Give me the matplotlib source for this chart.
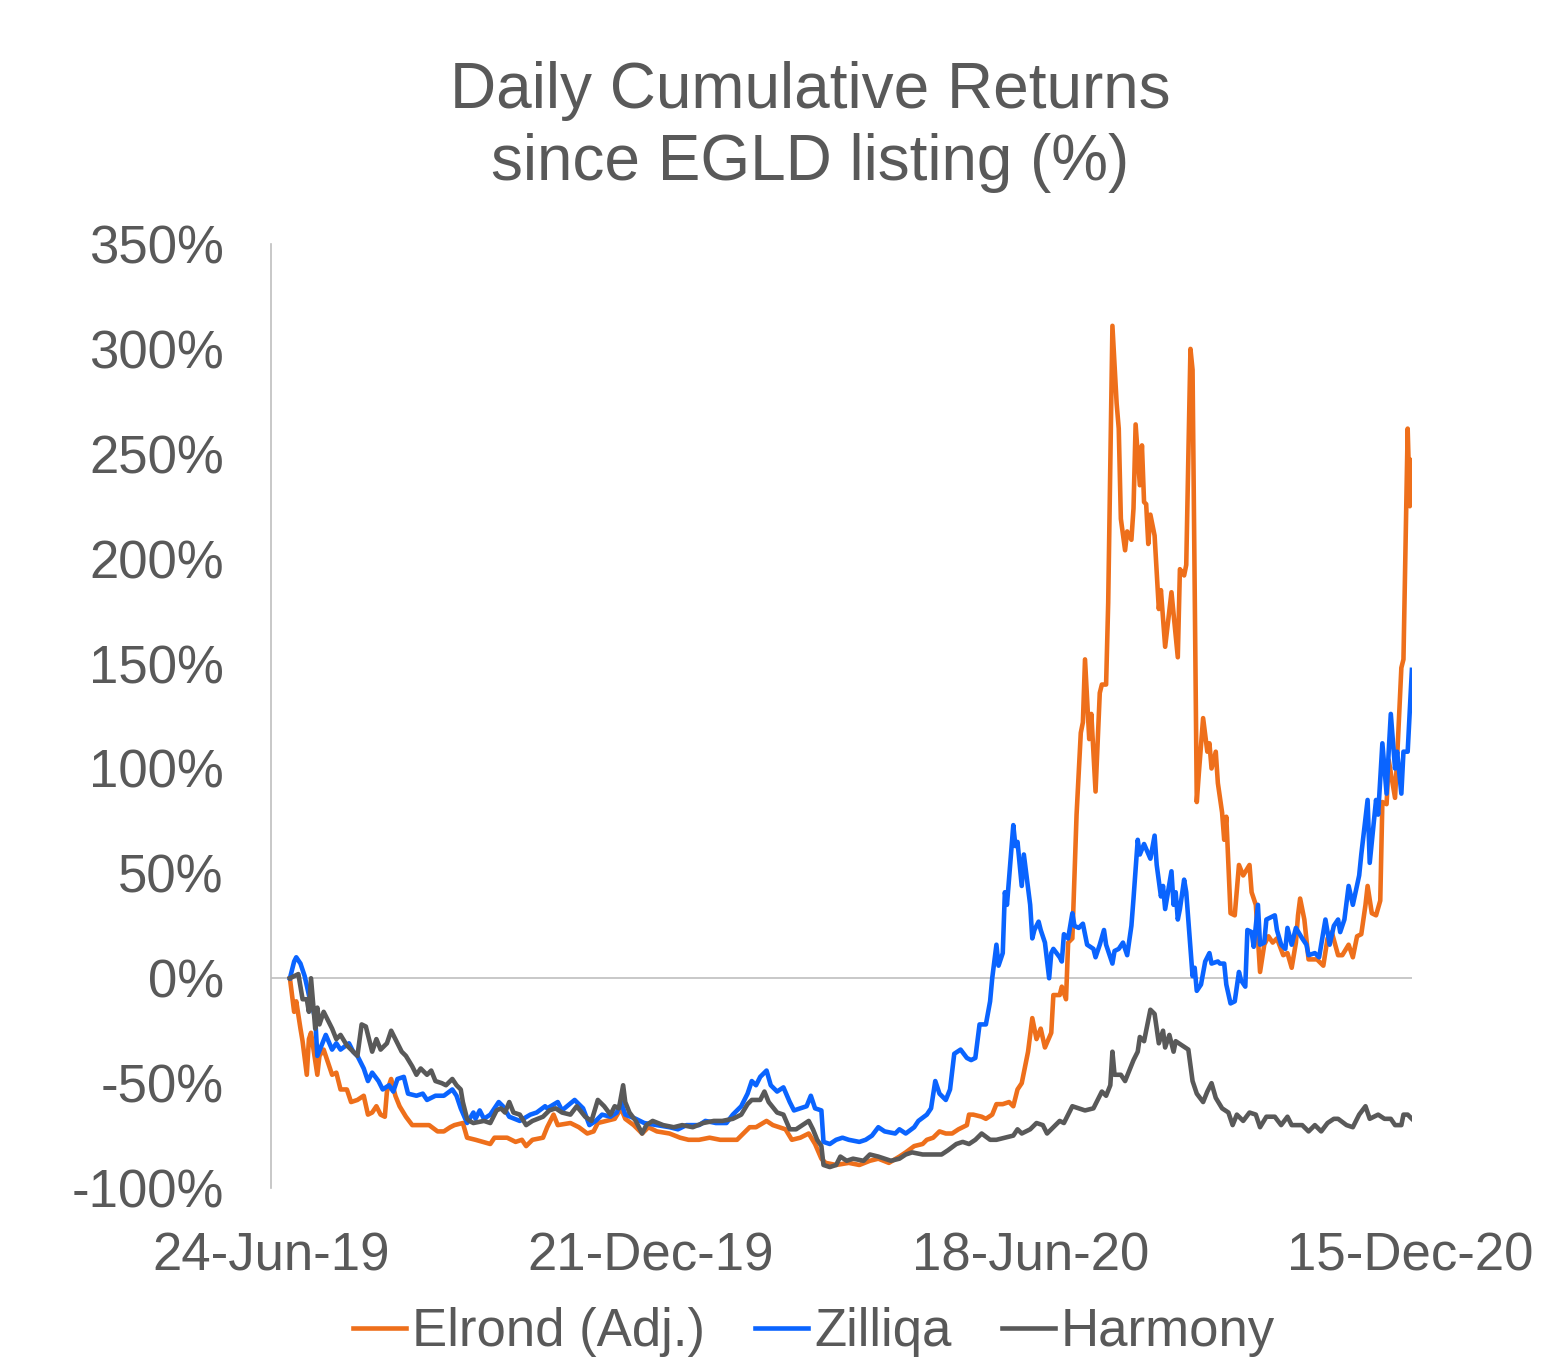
import numpy as np
import matplotlib
matplotlib.use("Agg")
import matplotlib.pyplot as plt
import matplotlib.dates as mdates

START = np.datetime64("2019-06-24")

# day offsets from 24-Jun-19 and cumulative return in %
elrond_days = [9, 11, 12, 14, 15, 17, 18, 19, 22, 23, 25, 27, 29, 31, 33, 36, 38, 41, 44, 46,
               48, 50, 52, 54, 55, 57, 59, 61, 64, 67, 71, 75, 79, 82, 85, 87, 91, 93, 97, 104,
               106, 112, 116, 119, 121, 124, 129, 131, 134, 136, 142, 146, 150, 153, 155, 159, 163, 166, 168, 172,
               176, 179, 183, 189, 194, 198, 203, 208, 213, 217, 221, 224, 227, 230, 235, 238, 241, 244, 247, 251,
               255, 258, 261, 263, 268, 274, 279, 284, 288, 293, 298, 301, 305, 309, 311, 314, 317, 320, 323, 326,
               330, 331, 333, 337, 339, 342, 344, 347, 350, 352, 354, 356, 359, 361, 363, 365, 367, 370, 371, 374,
               375, 377, 378, 380, 382, 384, 385, 386, 388, 389, 391, 393, 394, 396, 397, 399, 401, 402, 403, 405,
               406, 408, 409, 410, 412, 413, 414, 415, 416, 417, 419, 421, 422, 424, 427, 430, 431, 433, 434, 436,
               437, 439, 440, 442, 444, 445, 446, 448, 449, 451, 452, 453, 455, 457, 459, 461, 464, 465, 467, 469,
               471, 473, 475, 477, 480, 482, 484, 486, 487, 488, 490, 492, 496, 499, 501, 503, 506, 508, 511, 513,
               515, 517, 519, 520, 522, 524, 526, 527, 529, 530, 533, 534, 536, 537, 539, 540, 541]
elrond_vals = [0, -16, -11, -24, -30, -46, -29, -26, -46, -37, -34, -40, -46, -45, -53, -53, -59, -58, -56, -65,
               -64, -61, -65, -66, -54, -48, -56, -61, -66, -70, -70, -70, -73, -73, -71, -70, -69, -76, -77, -79,
               -76, -76, -78, -77, -80, -77, -76, -71, -65, -70, -69, -71, -74, -73, -69, -68, -67, -62, -67, -70,
               -74, -71, -73, -74, -76, -77, -77, -76, -77, -77, -77, -74, -71, -71, -68, -70, -71, -72, -77, -76,
               -74, -79, -86, -88, -89, -88, -89, -87, -86, -88, -85, -83, -80, -79, -77, -76, -73, -74, -74, -72,
               -70, -65, -65, -66, -67, -65, -60, -60, -59, -61, -53, -50, -35, -19, -29, -24, -33, -26, -8, -8,
               -4, -10, 17, 19, 78, 117, 122, 152, 114, 126, 89, 136, 140, 140, 179, 311, 274, 262, 219, 204,
               213, 209, 224, 264, 235, 254, 227, 226, 207, 221, 211, 176, 185, 158, 184, 153, 195, 192, 197, 300,
               290, 84, 98, 124, 108, 112, 100, 108, 93, 79, 66, 77, 31, 30, 54, 49, 54, 41, 35, 3,
               16, 20, 17, 19, 11, 12, 5, 17, 30, 38, 28, 9, 9, 6, 19, 22, 11, 11, 16, 10,
               20, 21, 35, 44, 31, 30, 37, 84, 83, 104, 86, 105, 148, 152, 262, 225, 247]

zilliqa_days = [9, 11, 12, 14, 16, 18, 21, 22, 24, 26, 29, 31, 33, 37, 39, 41, 44, 46, 48, 51,
                53, 56, 58, 60, 63, 65, 69, 72, 74, 78, 82, 86, 88, 90, 93, 96, 97, 99, 101, 104,
                108, 110, 113, 118, 123, 126, 130, 131, 136, 138, 144, 146, 148, 151, 154, 157, 161, 164, 166, 168,
                173, 177, 183, 189, 193, 197, 203, 206, 211, 216, 219, 223, 226, 228, 230, 232, 235, 237, 240, 243,
                246, 248, 251, 254, 256, 258, 261, 262, 265, 268, 271, 274, 279, 282, 285, 288, 291, 296, 298, 301,
                305, 307, 311, 313, 315, 317, 320, 322, 324, 327, 330, 332, 334, 336, 339, 341, 342, 344, 345, 347,
                348, 349, 352, 353, 354, 356, 357, 360, 361, 362, 364, 365, 367, 369, 370, 371, 374, 375, 376, 378,
                380, 381, 383, 385, 387, 390, 391, 393, 395, 396, 399, 400, 402, 404, 406, 408, 409, 411, 412, 414,
                417, 419, 420, 422, 423, 424, 425, 427, 428, 429, 430, 431, 433, 434, 437, 438, 439, 441, 443, 445,
                446, 449, 450, 452, 453, 455, 457, 459, 460, 462, 463, 465, 466, 468, 469, 471, 472, 474, 476, 477,
                479, 481, 482, 484, 486, 489, 491, 492, 495, 497, 500, 502, 504, 506, 507, 509, 511, 513, 516, 517,
                520, 521, 524, 525, 527, 529, 530, 531, 533, 534, 536, 537, 539, 541]
zilliqa_vals = [0, 8, 10, 7, 1, -8, -19, -37, -32, -27, -34, -31, -34, -31, -35, -37, -43, -49, -45, -49,
                -53, -51, -54, -48, -47, -55, -56, -55, -58, -56, -56, -53, -56, -62, -69, -64, -67, -63, -67, -65,
                -59, -61, -66, -68, -65, -64, -61, -62, -59, -63, -58, -60, -62, -70, -68, -65, -66, -64, -59, -65,
                -67, -69, -70, -71, -72, -70, -70, -68, -69, -69, -65, -61, -55, -49, -51, -47, -44, -51, -54, -52,
                -59, -63, -62, -61, -56, -62, -63, -78, -79, -77, -76, -77, -78, -77, -75, -71, -73, -74, -72, -74,
                -71, -68, -65, -62, -49, -55, -58, -53, -36, -34, -38, -39, -38, -22, -22, -11, 0, 16, 6, 12,
                41, 35, 73, 63, 65, 44, 59, 35, 19, 23, 27, 23, 17, 0, 12, 14, 10, 8, 21, 19,
                31, 25, 24, 26, 16, 14, 10, 16, 23, 16, 7, 13, 14, 17, 11, 25, 38, 66, 59, 64,
                57, 68, 54, 39, 44, 33, 39, 51, 35, 41, 28, 33, 47, 41, 1, 5, -6, -3, 8, 12,
                7, 8, 7, 7, -3, -12, -11, 3, -1, -4, 23, 22, 15, 35, 16, 17, 28, 29, 30, 23,
                16, 14, 24, 16, 24, 19, 16, 11, 12, 10, 28, 16, 25, 28, 22, 28, 44, 35, 49, 59,
                85, 55, 85, 78, 112, 88, 108, 126, 100, 108, 88, 108, 108, 147]

harmony_days = [9, 13, 15, 17, 18, 19, 21, 22, 23, 25, 26, 29, 31, 33, 36, 38, 41, 43, 45, 48,
                50, 52, 55, 57, 60, 62, 64, 67, 69, 71, 74, 76, 78, 81, 83, 86, 88, 90, 91, 93,
                94, 96, 101, 104, 107, 109, 111, 113, 115, 118, 121, 124, 129, 132, 135, 138, 142, 145, 149, 152,
                155, 158, 161, 163, 165, 167, 168, 170, 173, 176, 178, 181, 186, 191, 195, 200, 205, 210, 214, 219,
                223, 226, 228, 232, 234, 236, 240, 243, 246, 249, 252, 255, 257, 259, 261, 262, 265, 268, 270, 273,
                276, 281, 284, 288, 294, 298, 301, 304, 309, 314, 318, 321, 325, 328, 331, 334, 337, 341, 344, 348,
                352, 354, 356, 360, 363, 366, 368, 371, 374, 376, 380, 383, 386, 390, 392, 394, 396, 398, 399, 400,
                403, 405, 409, 411, 412, 414, 417, 419, 421, 423, 424, 426, 428, 429, 432, 435, 437, 439, 442, 444,
                446, 448, 451, 454, 456, 458, 461, 464, 467, 469, 472, 476, 479, 482, 484, 489, 492, 495, 498, 501,
                504, 506, 510, 513, 516, 519, 521, 525, 528, 531, 533, 536, 537, 539, 541]
harmony_vals = [0, 2, -10, -10, -16, 0, -24, -14, -22, -16, -18, -24, -29, -27, -32, -34, -37, -22, -23, -35,
                -29, -34, -31, -25, -31, -35, -37, -42, -46, -43, -46, -44, -49, -50, -51, -48, -51, -53, -59, -67,
                -68, -69, -68, -69, -63, -62, -64, -59, -64, -65, -70, -68, -66, -63, -62, -64, -65, -61, -66, -68,
                -58, -61, -65, -61, -62, -51, -59, -64, -68, -74, -70, -68, -70, -71, -70, -71, -69, -68, -68, -67,
                -65, -60, -58, -58, -54, -59, -64, -65, -72, -72, -70, -68, -72, -77, -80, -89, -90, -89, -85, -87,
                -86, -87, -84, -85, -87, -86, -84, -83, -84, -84, -84, -82, -79, -78, -79, -77, -74, -77, -77, -76,
                -75, -72, -74, -72, -69, -70, -74, -71, -68, -69, -61, -62, -63, -62, -58, -54, -56, -51, -35, -46,
                -46, -49, -39, -35, -28, -30, -15, -17, -31, -25, -33, -27, -35, -30, -32, -34, -49, -55, -59, -54,
                -50, -57, -62, -64, -70, -65, -68, -64, -65, -71, -66, -66, -70, -66, -70, -70, -73, -70, -73, -69,
                -67, -67, -70, -71, -65, -61, -67, -65, -67, -67, -70, -70, -65, -65, -67]

series_names = ["Elrond (Adj.)", "Zilliqa", "Harmony"]
series_colors = ["#EE6F1B", "#0A64FF", "#595959"]
tick_days = [0, 180, 360, 540]
y_ticks = [-100, -50, 0, 50, 100, 150, 200, 250, 300, 350]

TEXT = "#595959"
plt.rcParams["font.family"] = ["Liberation Sans", "DejaVu Sans"]


def to_dates(days):
    return START + np.array(days).astype("timedelta64[D]")


fig = plt.figure(figsize=(15.5, 13.57), dpi=100)
ax = fig.add_axes([0.1748, 0.1245, 0.7361, 0.6957])

all_days = [elrond_days, zilliqa_days, harmony_days]
all_vals = [elrond_vals, zilliqa_vals, harmony_vals]
for days, vals, name, col in zip(all_days, all_vals, series_names, series_colors):
    ax.plot(to_dates(days), vals, color=col, lw=3.3, label=name,
            solid_joinstyle="round", zorder=3)

ax.axhline(0, color="#BFBFBF", lw=1.2, zorder=1)

ax.set_ylim(-100, 350)
ax.set_yticks(y_ticks)
ax.set_yticklabels([f"{v}%" for v in y_ticks])
ax.set_xlim(to_dates([0])[0], to_dates([541])[0])
ax.set_xticks(to_dates(tick_days))
ax.xaxis.set_major_formatter(mdates.DateFormatter("%d-%b-%y"))

for s in ["top", "right", "bottom"]:
    ax.spines[s].set_visible(False)
ax.spines["left"].set_color("#BFBFBF")
ax.spines["left"].set_linewidth(1.2)
ax.tick_params(axis="y", length=0, pad=34, labelsize=38, labelcolor=TEXT)
ax.tick_params(axis="x", length=0, pad=31, labelsize=38, labelcolor=TEXT)

fig.text(0.5226, 0.955, "Daily Cumulative Returns\nsince EGLD listing (%)",
         ha="center", va="top", fontsize=46, color=TEXT, linespacing=1.25)

leg = fig.legend(loc="center", bbox_to_anchor=(0.5252, 0.0184), ncol=3,
                 frameon=False, fontsize=38, handlelength=1.0,
                 handletextpad=0.12, columnspacing=0.95, borderaxespad=0)
for t in leg.get_texts():
    t.set_color(TEXT)

fig.savefig("out.png", dpi=100)
